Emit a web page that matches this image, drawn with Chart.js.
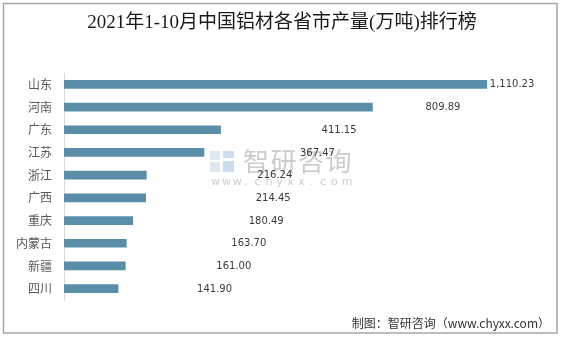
<!DOCTYPE html>
<html>
<head>
<meta charset="utf-8">
<script src="https://cdn.jsdelivr.net/npm/chart.js@4/dist/chart.umd.min.js"></script>
<style>
  html, body { margin: 0; padding: 0; background: #fff; }
  #wrap { width: 561px; height: 337px; position: relative; }
</style>
</head>
<body>
<div id="wrap"><canvas id="c" width="561" height="337"></canvas></div>
<script>
// Provinces ranked by aluminium product output, Jan–Oct 2021 (10k tonnes)
const provinces = ['山东', '河南', '广东', '江苏', '浙江', '广西', '重庆', '内蒙古', '新疆', '四川'];
const output = [1110.23, 809.89, 411.15, 367.47, 216.24, 214.45, 180.49, 163.70, 161.00, 141.90];

const titleText = '2021年1-10月中国铝材各省市产量(万吨)排行榜';
const sourceText = '制图：智研咨询（www.chyxx.com）';

// horizontal gap (px) between each bar end and its value label
const labelGap = [3, 53, 101, 96, 111, 110, 116, 105, 91, 79];

const fmt = v => v.toLocaleString('en-US', { minimumFractionDigits: 2, maximumFractionDigits: 2 });

const decor = {
  id: 'decor',
  beforeDraw(chart) {
    const ctx = chart.ctx;
    ctx.save();
    ctx.fillStyle = '#fff';
    ctx.fillRect(0, 0, chart.width, chart.height);
    // frame
    ctx.strokeStyle = '#a6a6a6';
    ctx.lineWidth = 1.5;
    ctx.strokeRect(3.5, 3.5, 553.5, 329.5);
    // watermark
    ctx.globalAlpha = 0.6;
    ctx.fillStyle = '#c9d7e6';
    ctx.fillRect(210, 151, 10, 9);
    ctx.fillRect(210, 162, 10, 10);
    ctx.fillStyle = '#a9c6e3';
    ctx.fillRect(223, 151, 11, 7);
    ctx.fillRect(223, 161, 11, 11);
    ctx.fillStyle = '#aaaaaa';
    ctx.font = '26px "Noto Sans CJK SC"';
    ctx.textBaseline = 'middle';
    ctx.textAlign = 'left';
    let cx = 243;
    for (const ch of '智研咨询') { ctx.fillText(ch, cx, 161); cx += 27.5; }
    ctx.font = '11px "DejaVu Sans"';
    let x = 211;
    for (const ch of 'www.chyxx.com') { ctx.fillText(ch, x, 182); x += 10.9; }
    ctx.restore();
  },
  afterDraw(chart) {
    const ctx = chart.ctx;
    ctx.save();
    ctx.fillStyle = '#1a1a1a';
    ctx.font = '19px "Liberation Serif", "Noto Sans CJK SC"';
    ctx.textAlign = 'center';
    ctx.textBaseline = 'middle';
    ctx.fillText(titleText, 282, 23);
    ctx.fillStyle = '#333';
    ctx.font = '12px "Noto Sans CJK SC"';
    ctx.textAlign = 'right';
    ctx.fillText(sourceText, 550, 323);
    // value labels
    const meta = chart.getDatasetMeta(0);
    ctx.fillStyle = '#3a3a3a';
    ctx.font = '10px "DejaVu Sans"';
    ctx.textAlign = 'left';
    meta.data.forEach((bar, i) => {
      ctx.fillText(fmt(output[i]), bar.x + labelGap[i], bar.y + 0.5);
    });
    ctx.restore();
  }
};

new Chart(document.getElementById('c'), {
  type: 'bar',
  data: {
    labels: provinces,
    datasets: [{
      data: output,
      backgroundColor: '#5a8ea8',
      barThickness: 8
    }]
  },
  options: {
    indexAxis: 'y',
    responsive: false,
    animation: false,
    layout: { padding: { left: 0, right: 40, top: 73, bottom: 37 } },
    plugins: { legend: { display: false }, tooltip: { enabled: false } },
    scales: {
      x: { display: false, min: 0, max: 1200 },
      y: {
        afterFit(scale) { scale.width = 64; },
        grid: { display: false, drawTicks: false },
        border: { display: true, color: '#d9d9d9', width: 1 },
        ticks: {
          padding: 12,
          color: '#595959',
          font: { family: '"Noto Sans CJK SC"', size: 12 }
        }
      }
    }
  },
  plugins: [decor]
});
</script>
</body>
</html>
